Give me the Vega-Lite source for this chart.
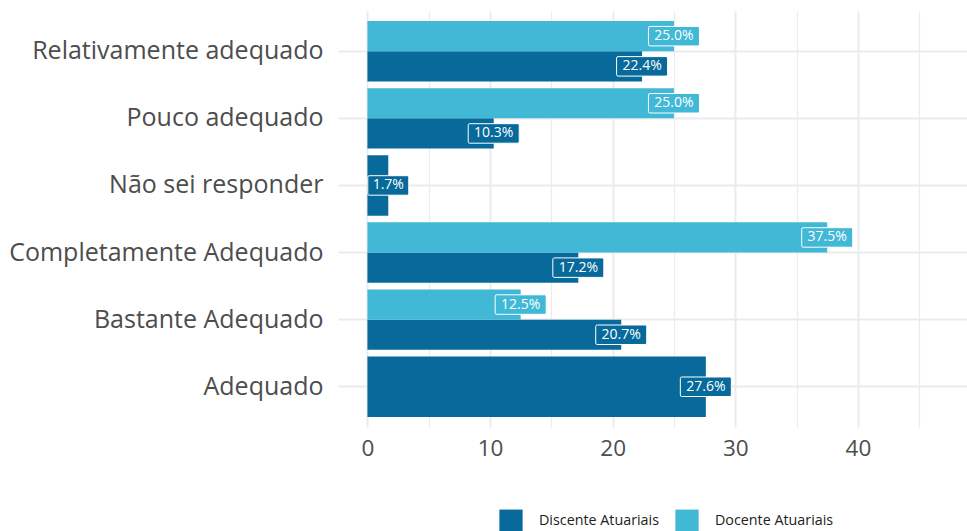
{
  "$schema": "https://vega.github.io/schema/vega-lite/v6.json",
  "width": 629,
  "height": 416,
  "autosize": {"type": "none"},
  "padding": {"left": 338, "top": 11, "right": 0, "bottom": 104},
  "background": "white",
  "config": {
    "font": "Open Sans",
    "view": {"stroke": null}
  },
  "data": {
    "values": [
      {"resposta": "Relativamente adequado", "grupo": "Discente Atuariais", "pct": 22.4, "label": "22.4%"},
      {"resposta": "Relativamente adequado", "grupo": "Docente Atuariais", "pct": 25.0, "label": "25.0%"},
      {"resposta": "Pouco adequado", "grupo": "Discente Atuariais", "pct": 10.3, "label": "10.3%"},
      {"resposta": "Pouco adequado", "grupo": "Docente Atuariais", "pct": 25.0, "label": "25.0%"},
      {"resposta": "Não sei responder", "grupo": "Discente Atuariais", "pct": 1.7, "label": "1.7%"},
      {"resposta": "Completamente Adequado", "grupo": "Discente Atuariais", "pct": 17.2, "label": "17.2%"},
      {"resposta": "Completamente Adequado", "grupo": "Docente Atuariais", "pct": 37.5, "label": "37.5%"},
      {"resposta": "Bastante Adequado", "grupo": "Discente Atuariais", "pct": 20.7, "label": "20.7%"},
      {"resposta": "Bastante Adequado", "grupo": "Docente Atuariais", "pct": 12.5, "label": "12.5%"},
      {"resposta": "Adequado", "grupo": "Discente Atuariais", "pct": 27.6, "label": "27.6%"}
    ]
  },
  "transform": [
    {"joinaggregate": [{"op": "count", "as": "n"}], "groupby": ["resposta"]}
  ],
  "encoding": {
    "y": {
      "field": "resposta",
      "type": "nominal",
      "sort": ["Relativamente adequado", "Pouco adequado", "Não sei responder", "Completamente Adequado", "Bastante Adequado", "Adequado"],
      "scale": {"paddingInner": 0.1, "paddingOuter": 0.15},
      "axis": {
        "title": null,
        "ticks": false,
        "domain": false,
        "grid": true,
        "gridColor": "#ebebeb",
        "gridWidth": 2,
        "labelFontSize": 25,
        "labelLimit": 400,
        "labelColor": "#4d4d4d",
        "labelPadding": 15
      }
    },
    "x": {
      "field": "pct",
      "type": "quantitative",
      "scale": {"domain": [-2.4, 48.9], "nice": false, "zero": false},
      "axis": {
        "title": null,
        "values": [0, 5, 10, 15, 20, 25, 30, 35, 40, 45],
        "labelExpr": "datum.value % 10 == 0 ? datum.label : ''",
        "ticks": false,
        "domain": false,
        "grid": true,
        "gridColor": "#ebebeb",
        "gridWidth": {"condition": {"test": "datum.value % 10 == 0", "value": 2}, "value": 1.2},
        "labelFontSize": 22.5,
        "labelColor": "#4d4d4d",
        "labelPadding": 10
      }
    },
    "color": {
      "field": "grupo",
      "type": "nominal",
      "scale": {"domain": ["Discente Atuariais", "Docente Atuariais"], "range": ["#076a9b", "#42b8d7"]},
      "legend": {
        "title": null,
        "orient": "none",
        "direction": "horizontal",
        "legendX": 161,
        "legendY": 498,
        "symbolType": "square",
        "symbolSize": 540,
        "symbolStrokeWidth": 0,
        "symbolOpacity": 1,
        "labelFontSize": 14.3,
        "labelColor": "#222222",
        "labelOffset": 16,
        "columnPadding": 16
      }
    }
  },
  "layer": [
    {
      "transform": [{"filter": "datum.n == 2"}],
      "mark": {"type": "bar", "opacity": 1},
      "encoding": {
        "x2": {"datum": 0},
        "yOffset": {"field": "grupo", "type": "nominal", "sort": ["Docente Atuariais", "Discente Atuariais"], "scale": {"paddingInner": 0, "paddingOuter": 0}}
      }
    },
    {
      "transform": [{"filter": "datum.n == 1"}],
      "mark": {"type": "bar", "opacity": 1},
      "encoding": {
        "x2": {"datum": 0}
      }
    },
    {
      "transform": [{"filter": "datum.n == 2"}],
      "mark": {"type": "point", "filled": true, "opacity": 1, "stroke": "white", "strokeWidth": 1, "size": 100},
      "encoding": {
        "yOffset": {"field": "grupo", "type": "nominal", "sort": ["Docente Atuariais", "Discente Atuariais"], "scale": {"paddingInner": 0, "paddingOuter": 0}},
        "shape": {"condition": {"test": "length(datum.label) < 5", "value": "M-3.8,-1.95H3.8Q4.1,-1.95,4.1,-1.65V1.65Q4.1,1.95,3.8,1.95H-3.8Q-4.1,1.95,-4.1,1.65V-1.65Q-4.1,-1.95,-3.8,-1.95Z"}, "value": "M-4.8,-1.95H4.8Q5.1,-1.95,5.1,-1.65V1.65Q5.1,1.95,4.8,1.95H-4.8Q-5.1,1.95,-5.1,1.65V-1.65Q-5.1,-1.95,-4.8,-1.95Z"}
      }
    },
    {
      "transform": [{"filter": "datum.n == 1"}],
      "mark": {"type": "point", "filled": true, "opacity": 1, "stroke": "white", "strokeWidth": 1, "size": 100},
      "encoding": {
        "shape": {"condition": {"test": "length(datum.label) < 5", "value": "M-3.8,-1.95H3.8Q4.1,-1.95,4.1,-1.65V1.65Q4.1,1.95,3.8,1.95H-3.8Q-4.1,1.95,-4.1,1.65V-1.65Q-4.1,-1.95,-3.8,-1.95Z"}, "value": "M-4.8,-1.95H4.8Q5.1,-1.95,5.1,-1.65V1.65Q5.1,1.95,4.8,1.95H-4.8Q-5.1,1.95,-5.1,1.65V-1.65Q-5.1,-1.95,-4.8,-1.95Z"}
      }
    },
    {
      "transform": [{"filter": "datum.n == 2"}],
      "mark": {"type": "text", "color": "white", "fontSize": 14, "align": "center", "baseline": "middle"},
      "encoding": {
        "yOffset": {"field": "grupo", "type": "nominal", "sort": ["Docente Atuariais", "Discente Atuariais"], "scale": {"paddingInner": 0, "paddingOuter": 0}},
        "text": {"field": "label"},
        "color": {"value": "white"}
      }
    },
    {
      "transform": [{"filter": "datum.n == 1"}],
      "mark": {"type": "text", "color": "white", "fontSize": 14, "align": "center", "baseline": "middle"},
      "encoding": {
        "text": {"field": "label"},
        "color": {"value": "white"}
      }
    }
  ]
}
